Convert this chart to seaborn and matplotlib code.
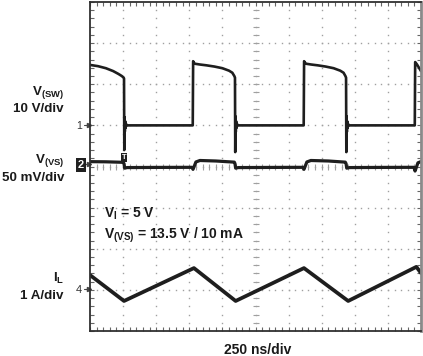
import numpy as np
import pandas as pd
import matplotlib
matplotlib.use("Agg")
import matplotlib.pyplot as plt
import seaborn as sns
from matplotlib import font_manager

# ---------------- data (time in ns, 250 ns/div) ----------------
sw_t = [0, 60, 120, 175, 215, 240, 254, 257, 259, 261, 263, 266, 269, 273, 280, 300,
        776, 779, 790, 830, 880, 940, 1000, 1050, 1075, 1090, 1095, 1097, 1099, 1101, 1104,
        1107, 1111, 1118, 1140, 1614, 1617, 1630, 1670, 1720, 1780, 1840, 1890, 1915, 1929,
        1934, 1936, 1938, 1940, 1943, 1946, 1950, 1957, 1980, 2453, 2456, 2470, 2500]
sw_v = [14.7, 14.4, 13.9, 13.2, 12.5, 12.0, 11.6, 11.4, -6.0, 2.0, -1.5, 1.0, -0.6, 0.3, 0.0, 0.0,
        0.0, 15.6, 15.0, 14.8, 14.6, 14.3, 13.9, 13.3, 12.8, 12.0, 11.6, -6.5, 2.2, -1.6, 1.0,
        -0.6, 0.3, 0.0, 0.0, 0.0, 15.6, 15.0, 14.8, 14.6, 14.3, 13.9, 13.3, 12.8, 12.0,
        11.6, -6.5, 2.2, -1.6, 1.0, -0.6, 0.3, 0.0, 0.0, 0.0, 15.4, 14.8, 13.2]

vs_t = [0, 120, 250, 257, 262, 280, 500, 770, 778, 800, 830, 950, 1090, 1095, 1100, 1120,
        1400, 1608, 1616, 1638, 1668, 1800, 1928, 1934, 1939, 1960, 2200, 2447, 2455, 2477, 2500]
vs_mv = [3.4, 3.2, 2.6, 1.0, -4.5, -3.8, -3.6, -3.5, -6.0, 3.0, 4.8, 4.2, 2.8, 1.0, -4.5, -3.8,
         -3.6, -3.5, -6.0, 3.0, 4.8, 4.2, 2.8, 1.0, -4.5, -3.8, -3.6, -3.5, -8.0, 2.0, 3.5]

il_t = [0, 257, 785, 1100, 1616, 1950, 2465, 2500]
il_a = [0.34, -0.29, 0.51, -0.29, 0.51, -0.29, 0.54, 0.39]

channel_labels = [("V$_{\\mathregular{(SW)}}$", "10 V/div"),
                  ("V$_{\\mathregular{(VS)}}$", "50 mV/div"),
                  ("I$_{\\mathregular{L}}$", "1 A/div")]
cond_lines = ["V$_{\\mathregular{I}}$ = 5 V",
              "V$_{\\mathregular{(VS)}}$ = 13.5 V / 10 mA"]
time_label = "250 ns/div"

# ---------------- figure ----------------
sns.set_theme(style="white")
plt.rcParams['font.family'] = ['Liberation Sans', 'DejaVu Sans']
plt.rcParams['mathtext.fontset'] = 'custom'
plt.rcParams['mathtext.rm'] = 'Liberation Sans:bold'
plt.rcParams['mathtext.it'] = 'Liberation Sans:bold'
plt.rcParams['mathtext.bf'] = 'Liberation Sans:bold'

W, H = 423, 356
fig = plt.figure(figsize=(W / 100, H / 100), dpi=100)
fig.patch.set_facecolor('white')
L, R, T, B = 90, 421, 2, 331
ax = fig.add_axes([L / W, 1 - B / H, (R - L) / W, (B - T) / H])
ax.set_xlim(0, 2500)
ax.set_ylim(0, 8)

grid_col = '#a0a0a0'
# dotted graticule
for k in range(1, 10):
    ys = np.arange(0.2, 8, 0.2)
    ax.plot(np.full(len(ys), k * 250), ys, ls='none', marker='s', ms=1.0, color=grid_col, mec='none')
for k in range(1, 8):
    xs = np.arange(50, 2500, 50)
    ax.plot(xs, np.full(len(xs), k), ls='none', marker='s', ms=1.0, color=grid_col, mec='none')
# centre crosshair ticks
ys = np.arange(0.2, 8, 0.2)
ax.plot(np.full(len(ys), 1250), ys, ls='none', marker='_', ms=5, mew=0.8, color=grid_col)
xs = np.arange(50, 2500, 50)
ax.plot(xs, np.full(len(xs), 4), ls='none', marker='|', ms=5, mew=0.8, color=grid_col)

trace_col = '#1e1e1e'
df_sw = pd.DataFrame({'t': sw_t, 'y': [5 + v / 10 for v in sw_v]})
df_vs = pd.DataFrame({'t': vs_t, 'y': [4.05 + v / 50 for v in vs_mv]})
df_il = pd.DataFrame({'t': il_t, 'y': [1.02 + a for a in il_a]})
for d, lw in ((df_sw, 1.9), (df_vs, 2.3), (df_il, 2.7)):
    sns.lineplot(data=d, x='t', y='y', ax=ax, color=trace_col, lw=lw,
                 estimator=None, sort=False, legend=False)

ax.set_xlabel('')
ax.set_ylabel('')
ax.set_xticks(np.arange(0, 2501, 250))
ax.set_yticks(np.arange(0, 9, 1))
ax.set_xticks(np.arange(0, 2501, 50), minor=True)
ax.set_yticks(np.arange(0, 8.01, 0.2), minor=True)
ax.tick_params(which='both', direction='in', length=3, width=0.8, color='#666666',
               top=True, right=True, bottom=True, left=True,
               labelbottom=False, labelleft=False)
for s in ['left', 'top', 'bottom']:
    ax.spines[s].set_color('#303030')
    ax.spines[s].set_linewidth(1.3)
ax.spines['right'].set_color('#8a8a8a')
ax.spines['right'].set_linewidth(2.0)

# trigger marker on channel 2
ax.text(257, 4.22, 'T', fontsize=5.5, color='white', fontweight='bold', ha='center', va='center',
        bbox=dict(boxstyle='square,pad=0.15', fc='#202020', ec='none'))

# channel markers (small arrows into the screen)
for yd in (5.0, 4.05, 1.02):
    ax.plot([-42, -8], [yd, yd], color='#444444', lw=0.8, clip_on=False)
    ax.plot([-10], [yd], marker='>', ms=3, color='#444444', clip_on=False)


def ftext(x, y, s, **kw):
    fig.text(x / W, 1 - y / H, s, **kw)


ftext(82, 129, '1', ha='right', va='baseline', fontsize=7.5, color='#333333')
ftext(82, 293, '4', ha='right', va='baseline', fontsize=8, color='#333333')
ftext(84, 168, '2', ha='right', va='baseline', fontsize=8, color='white', fontweight='bold',
      bbox=dict(boxstyle='square,pad=0.2', fc='#202020', ec='none'))

bold = dict(fontweight='bold', color='#1a1a1a')
# channel labels
lab_y = [(95, 112), (163, 181), (282, 299)]
for (name, scale), (y1, y2) in zip(channel_labels, lab_y):
    ftext(64, y1, name, ha='right', va='baseline', fontsize=9.6, **bold)
    ftext(64, y2, scale, ha='right', va='baseline', fontsize=9.6, **bold)

# conditions
ftext(104, 218, cond_lines[0], ha='left', va='baseline', fontsize=10, **bold)
ftext(104, 239, cond_lines[1], ha='left', va='baseline', fontsize=10, **bold)
# time base
ftext(258, 354, time_label, ha='center', va='baseline', fontsize=10, **bold)

fig.savefig('out.png', dpi=100, facecolor='white')
